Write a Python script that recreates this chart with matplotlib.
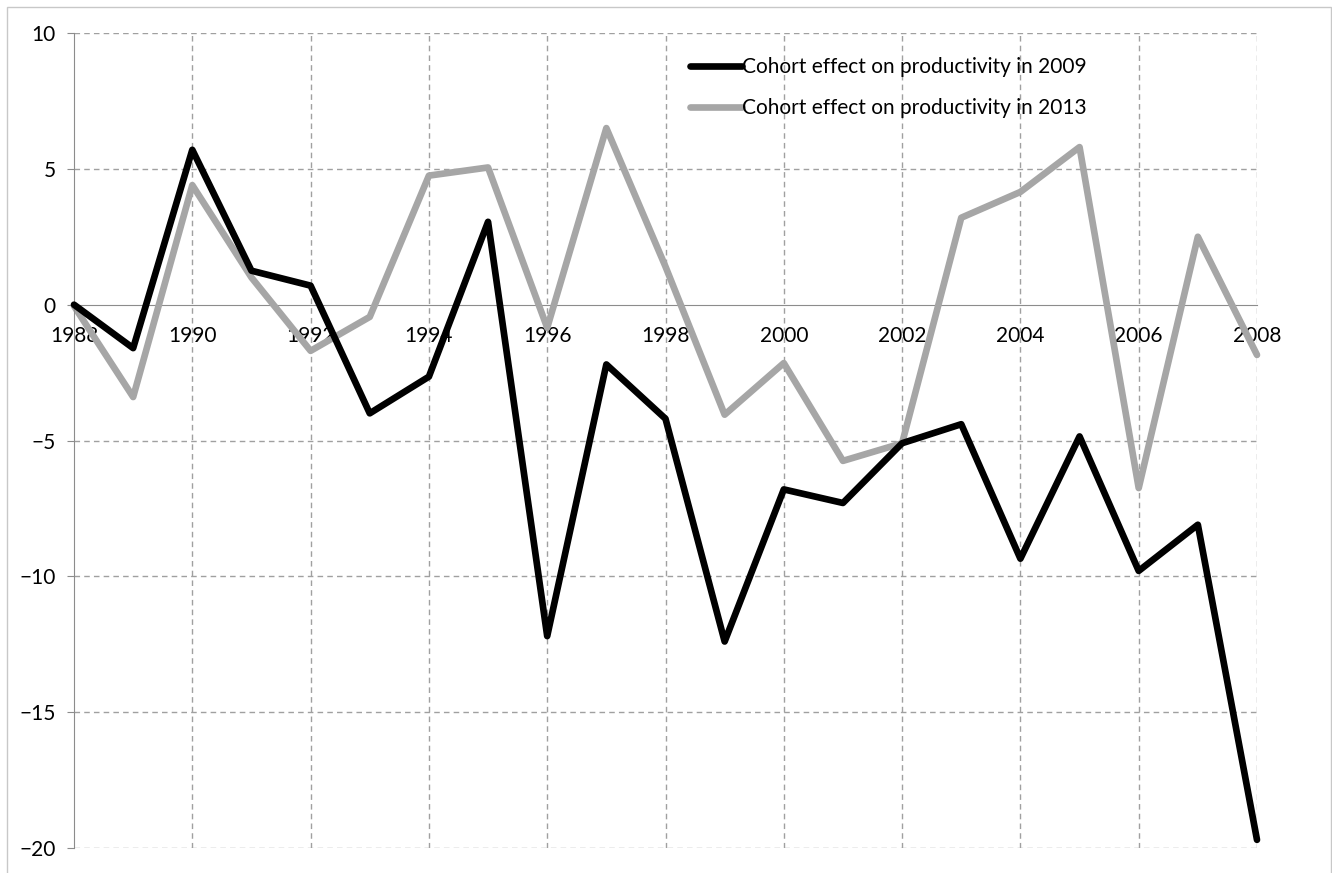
import matplotlib.pyplot as plt
from matplotlib.patches import Rectangle

plt.rcParams['font.family'] = ['Lato', 'DejaVu Sans']

years = list(range(1988, 2009))
effect_2009 = [0.0, -1.6, 5.7, 1.25, 0.7, -4.0, -2.65, 3.05, -12.2, -2.2, -4.2,
               -12.4, -6.8, -7.3, -5.1, -4.4, -9.35, -4.85, -9.8, -8.1, -19.7]
effect_2013 = [-0.05, -3.4, 4.4, 1.0, -1.7, -0.45, 4.75, 5.05, -0.85, 6.5, 1.4,
               -4.05, -2.15, -5.75, -5.1, 3.2, 4.15, 5.8, -6.75, 2.5, -1.85]
labels = ['Cohort effect on productivity in 2009', 'Cohort effect on productivity in 2013']

fig = plt.figure(figsize=(13.32, 8.73), dpi=100)
ax = fig.add_axes([74 / 1332, 1 - 848 / 873, (1257 - 74) / 1332, (848 - 33) / 873])

# light border around the whole picture
fig.patches.append(Rectangle((7 / 1332, -0.05), 1324 / 1332, 1.05 - 7 / 873,
                             transform=fig.transFigure, fill=False,
                             edgecolor='#c8c8c8', lw=1))

grid_col = '#a0a0a0'
for y in [10, 5, -5, -10, -15, -20]:
    ax.axhline(y, color=grid_col, lw=1, ls=(0, (4, 3)), zorder=1)
for x in range(1990, 2009, 2):
    ax.axvline(x, color=grid_col, lw=1, ls=(0, (4, 3)), zorder=1)

ax.plot(years, effect_2009, color='black', lw=4.8, label=labels[0],
        zorder=3, clip_on=False, solid_capstyle='round')
ax.plot(years, effect_2013, color='#a6a6a6', lw=4.8, label=labels[1],
        zorder=2, clip_on=False, solid_capstyle='round')

ax.set_xlim(1988, 2008)
ax.set_ylim(-20, 10)

for s in ['top', 'right']:
    ax.spines[s].set_visible(False)
ax.spines['left'].set_color('#8c8c8c')
ax.spines['bottom'].set_color('#8c8c8c')
ax.spines['bottom'].set_position(('data', 0))
ax.spines['bottom'].set_zorder(1)

ax.set_yticks([10, 5, 0, -5, -10, -15, -20])
ax.set_xticks(list(range(1988, 2009, 2)))
ax.tick_params(axis='y', length=5, color='#8c8c8c', labelsize=15, pad=8)
ax.tick_params(axis='x', length=0, labelsize=15, pad=15)

ax.legend(loc='upper left', bbox_to_anchor=(0.512, 0.983), frameon=False,
          fontsize=15, handlelength=2.5, handletextpad=0.0, borderpad=0,
          labelspacing=1.0)

fig.savefig('out.png', dpi=100)
